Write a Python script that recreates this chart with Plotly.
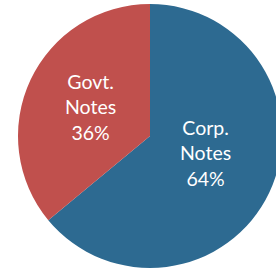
import plotly.graph_objects as go

labels = ["Corp.<br>Notes", "Govt.<br>Notes"]
values = [64, 36]
colors = ["#2D6A91", "#C0504D"]

W, H = 290, 280
cx, cy, r = 150, 136, 132

fig = go.Figure(go.Pie(
    labels=labels,
    values=values,
    sort=False,
    direction="clockwise",
    rotation=0,
    marker=dict(colors=colors, line=dict(width=0)),
    textinfo="none",
    hoverinfo="skip",
    domain=dict(x=[(cx - r) / W, (cx + r) / W], y=[(H - cy - r) / H, (H - cy + r) / H]),
))

total = sum(values)
label_pos = [(205, 153), (90, 107)]
for lab, v, (px, py) in zip(labels, values, label_pos):
    fig.add_annotation(
        x=px / W, y=1 - py / H, xref="paper", yref="paper",
        text=f"{lab}<br>{round(100 * v / total)}%",
        showarrow=False, align="center",
        xanchor="center", yanchor="middle",
        font=dict(family="Lato", size=19.5, color="white"),
    )

fig.update_layout(
    width=W, height=H,
    margin=dict(l=0, r=0, t=0, b=0),
    paper_bgcolor="white",
    showlegend=False,
)
fig.write_html("out.html", config={"displayModeBar": False},
               post_script="document.body.style.margin='0px';")
